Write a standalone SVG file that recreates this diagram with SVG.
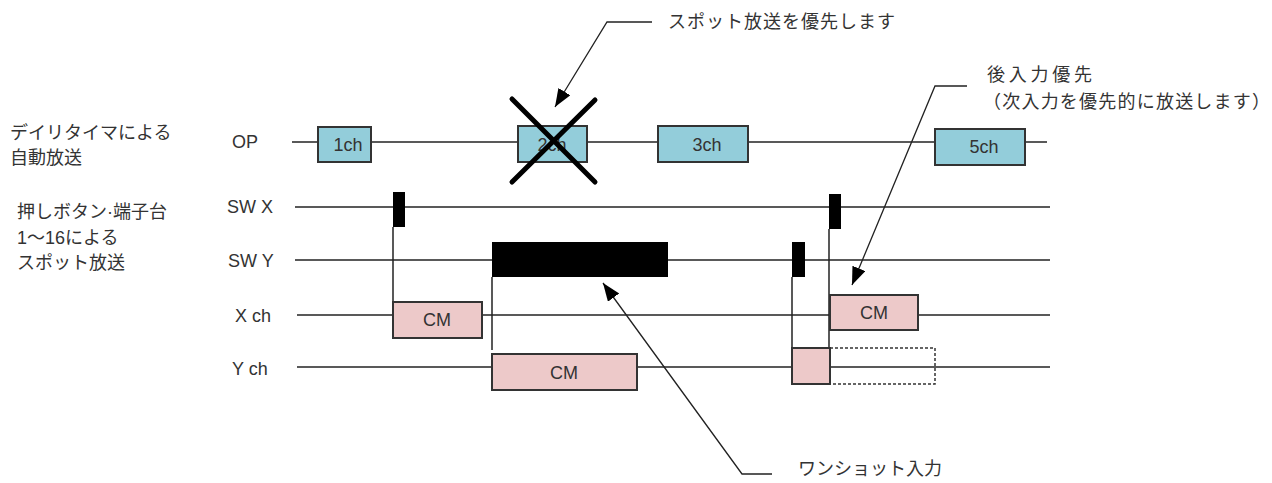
<svg xmlns="http://www.w3.org/2000/svg" width="1272" height="483" viewBox="0 0 1272 483">
<style>
text{font-family:"Liberation Sans","Noto Sans CJK JP",sans-serif;fill:#333}
.t{font-size:18px}
.lab{font-size:18px}
.tl{stroke:#222;stroke-width:1.5;fill:none}
.op{fill:#93cdda;stroke:#333;stroke-width:2}
.cm{fill:#edc9c9;stroke:#333;stroke-width:2}
.pulse{fill:#000}
.vl{stroke:#222;stroke-width:1.5}
.lead{stroke:#222;stroke-width:1.3;fill:none}
.bx{font-size:18px;text-anchor:middle}
</style>
<defs>
<marker id="ah" markerUnits="userSpaceOnUse" markerWidth="20" markerHeight="16" refX="18" refY="7" orient="auto">
<path d="M0,0 L18,7 L0,14 z" fill="#000"/>
</marker>
</defs>
<rect width="1272" height="483" fill="#fff"/>
<g id="left-labels">
<text class="t" x="10" y="139">デイリタイマによる</text>
<text class="t" x="10" y="164">自動放送</text>
<text class="t" x="17" y="218">押しボタン·端子台</text>
<text class="t" x="17" y="244">1～16による</text>
<text class="t" x="17" y="269">スポット放送</text>
</g>
<g id="row-labels">
<text class="lab" x="232" y="148">OP</text>
<text class="lab" x="227" y="213">SW X</text>
<text class="lab" x="228" y="267">SW Y</text>
<text class="lab" x="235" y="322">X ch</text>
<text class="lab" x="232" y="375">Y ch</text>
</g>
<g id="connectors">
<line class="tl" x1="292" y1="142" x2="1047" y2="142"/>
<line class="tl" x1="295" y1="207" x2="1050" y2="207"/>
<line class="tl" x1="295" y1="260" x2="1050" y2="260"/>
<line class="tl" x1="297" y1="315" x2="1050" y2="315"/>
<line class="tl" x1="297" y1="367" x2="1050" y2="367"/>
<line class="vl" x1="393" y1="227" x2="393" y2="302"/>
<line class="vl" x1="492" y1="277" x2="492" y2="350"/>
<line class="vl" x1="792" y1="277" x2="792" y2="348"/>
<line class="vl" x1="829" y1="229" x2="829" y2="348"/>
<polyline class="lead" points="652,22 607,22 555,107" marker-end="url(#ah)"/>
<polyline class="lead" points="967,86 935,86 852,285" marker-end="url(#ah)"/>
<polyline class="lead" points="772,474 742,474 603,283" marker-end="url(#ah)"/>
</g>
<g id="op-1ch"><rect class="op" x="318" y="127" width="53" height="35"/><text class="bx" x="348" y="151">1ch</text></g>
<g id="op-2ch"><rect class="op" x="518" y="126" width="69" height="36"/><text class="bx" x="552" y="151">2ch</text>
<line x1="512" y1="99" x2="595" y2="182" stroke="#000" stroke-width="5" stroke-linecap="round"/>
<line x1="595" y1="100" x2="512" y2="182" stroke="#000" stroke-width="5" stroke-linecap="round"/></g>
<g id="op-3ch"><rect class="op" x="658" y="126" width="90" height="36"/><text class="bx" x="707" y="151">3ch</text></g>
<g id="op-5ch"><rect class="op" x="935" y="129" width="90" height="36"/><text class="bx" x="984" y="153">5ch</text></g>
<g id="swx-pulse1"><rect class="pulse" x="393" y="192" width="12" height="35"/></g>
<g id="swx-pulse2"><rect class="pulse" x="829" y="194" width="12" height="35"/></g>
<g id="swy-pulse1"><rect class="pulse" x="492" y="242" width="176" height="35"/></g>
<g id="swy-pulse2"><rect class="pulse" x="792" y="242" width="13" height="35"/></g>
<g id="xch-cm1"><rect class="cm" x="393" y="302" width="89" height="36"/><text class="bx" x="437" y="326">CM</text></g>
<g id="xch-cm2"><rect class="cm" x="830" y="295" width="88" height="35"/><text class="bx" x="874" y="319">CM</text></g>
<g id="ych-cm1"><rect class="cm" x="492" y="354" width="145" height="36"/><text class="bx" x="564" y="379">CM</text></g>
<g id="ych-cm2"><rect x="830" y="348" width="105" height="36" fill="#fff" stroke="#333" stroke-width="1.5" stroke-dasharray="3,2"/>
<line class="tl" x1="830" y1="367" x2="935" y2="367"/>
<rect class="cm" x="792" y="348" width="38" height="36"/></g>
<g id="annotations">
<text class="t" x="668" y="28" textLength="227">スポット放送を優先します</text>
<text class="t" x="987" y="81" textLength="105">後入力優先</text>
<text class="t" x="983" y="108" textLength="287">（次入力を優先的に放送します）</text>
<text class="t" x="798" y="475">ワンショット入力</text>
</g>
</svg>
